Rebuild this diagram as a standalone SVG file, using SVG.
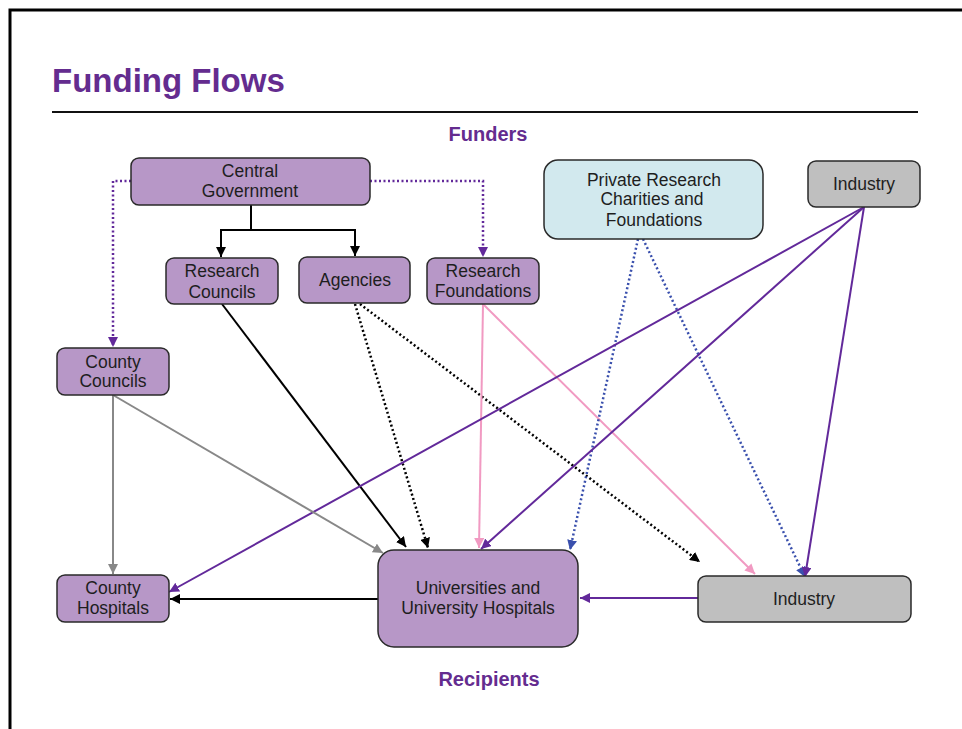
<svg xmlns="http://www.w3.org/2000/svg" width="962" height="729" viewBox="0 0 962 729">
<style>
.node rect{stroke:#2a2a2a;stroke-width:1.5}
.p{fill:#b797c7}
.g{fill:#bfbfbf}
.b{fill:#d2e9ee}
.t{font-family:"Liberation Sans",Arial,sans-serif;font-size:17.5px;fill:#1e1e1e;text-anchor:middle}
.h{font-family:"Liberation Sans",Arial,sans-serif;font-weight:bold;fill:#642c8f}
.c{fill:none;stroke-width:2}
.blk{stroke:#000}
.dot{stroke-dasharray:2 2.5;stroke-width:2.5}
.pur{stroke:#62299a}
.pnk{stroke:#f19ac2}
.blu{stroke:#3a50ad}
.gry{stroke:#888}
</style>
<defs>
<marker id="ak" viewBox="0 0 10 10" refX="10" refY="5" markerWidth="10" markerHeight="10" markerUnits="userSpaceOnUse" orient="auto"><path d="M0,0L10,5L0,10z" fill="#000"/></marker>
<marker id="ap" viewBox="0 0 10 10" refX="10" refY="5" markerWidth="10" markerHeight="10" markerUnits="userSpaceOnUse" orient="auto"><path d="M0,0L10,5L0,10z" fill="#62299a"/></marker>
<marker id="an" viewBox="0 0 10 10" refX="10" refY="5" markerWidth="10" markerHeight="10" markerUnits="userSpaceOnUse" orient="auto"><path d="M0,0L10,5L0,10z" fill="#f19ac2"/></marker>
<marker id="ab" viewBox="0 0 10 10" refX="10" refY="5" markerWidth="10" markerHeight="10" markerUnits="userSpaceOnUse" orient="auto"><path d="M0,0L10,5L0,10z" fill="#3a50ad"/></marker>
<marker id="ag" viewBox="0 0 10 10" refX="10" refY="5" markerWidth="10" markerHeight="10" markerUnits="userSpaceOnUse" orient="auto"><path d="M0,0L10,5L0,10z" fill="#888"/></marker>
</defs>
<rect x="0" y="0" width="962" height="729" fill="#fff"/>
<path d="M10,729V10H962" fill="none" stroke="#000" stroke-width="3"/>
<text class="h" x="52" y="92" font-size="33">Funding Flows</text>
<line x1="52" y1="112" x2="918" y2="112" stroke="#111" stroke-width="1.8"/>
<text class="h" x="488" y="141" font-size="20" text-anchor="middle">Funders</text>
<text class="h" x="489" y="686" font-size="20" text-anchor="middle">Recipients</text>

<g id="connectors">
<path class="c blk" stroke-width="2.5" d="M251,205V230H221V257" marker-end="url(#ak)"/>
<path class="c blk" stroke-width="2.5" d="M251,230H355V256" marker-end="url(#ak)"/>
<path class="c pur dot" d="M131,181H113V347" marker-end="url(#ap)"/>
<path class="c pur dot" d="M370,181H483V257" marker-end="url(#ap)"/>
<path class="c blk" d="M222,304L406,547" marker-end="url(#ak)"/>
<path class="c blk dot" d="M355,304L428,548" marker-end="url(#ak)"/>
<path class="c blk dot" d="M360,304L700,562" marker-end="url(#ak)"/>
<path class="c pnk" d="M483,304L479,548" marker-end="url(#an)"/>
<path class="c pnk" d="M483,304L755,574" marker-end="url(#an)"/>
<path class="c blu dot" d="M638,239L570,550" marker-end="url(#ab)"/>
<path class="c blu dot" d="M643,239L805,577" marker-end="url(#ab)"/>
<path class="c pur" d="M864,207L169,592" marker-end="url(#ap)"/>
<path class="c pur" d="M864,207L481,549" marker-end="url(#ap)"/>
<path class="c pur" d="M864,207L805,577" marker-end="url(#ap)"/>
<path class="c pur" d="M698,598H580" marker-end="url(#ap)"/>
<path class="c blk" d="M378,599H170" marker-end="url(#ak)"/>
<path class="c gry" d="M113,395V574" marker-end="url(#ag)"/>
<path class="c gry" d="M113,395L383,553" marker-end="url(#ag)"/>
</g>

<g id="central-government" class="node"><rect class="p" x="131" y="158" width="239" height="47" rx="8"/><text class="t" x="250" y="177">Central</text><text class="t" x="250" y="197">Government</text></g>
<g id="research-councils" class="node"><rect class="p" x="166" y="258" width="112" height="46" rx="8"/><text class="t" x="222" y="277">Research</text><text class="t" x="222" y="298">Councils</text></g>
<g id="agencies" class="node"><rect class="p" x="299" y="257" width="111" height="46" rx="8"/><text class="t" x="355" y="286">Agencies</text></g>
<g id="research-foundations" class="node"><rect class="p" x="427" y="258" width="112" height="46" rx="8"/><text class="t" x="483" y="277">Research</text><text class="t" x="483" y="297">Foundations</text></g>
<g id="private-research" class="node"><rect class="b" x="544" y="160" width="219" height="79" rx="14"/><text class="t" x="654" y="186">Private Research</text><text class="t" x="652" y="205">Charities and</text><text class="t" x="654" y="226">Foundations</text></g>
<g id="industry-funder" class="node"><rect class="g" x="808" y="161" width="112" height="46" rx="8"/><text class="t" x="864" y="190">Industry</text></g>
<g id="county-councils" class="node"><rect class="p" x="57" y="348" width="112" height="47" rx="8"/><text class="t" x="113" y="368">County</text><text class="t" x="113" y="387">Councils</text></g>
<g id="county-hospitals" class="node"><rect class="p" x="57" y="575" width="112" height="47" rx="8"/><text class="t" x="113" y="594">County</text><text class="t" x="113" y="614">Hospitals</text></g>
<g id="universities" class="node"><rect class="p" x="378" y="550" width="200" height="97" rx="16"/><text class="t" x="478" y="594">Universities and</text><text class="t" x="478" y="614">University Hospitals</text></g>
<g id="industry-recipient" class="node"><rect class="g" x="698" y="576" width="213" height="46" rx="8"/><text class="t" x="804" y="605">Industry</text></g>
</svg>
